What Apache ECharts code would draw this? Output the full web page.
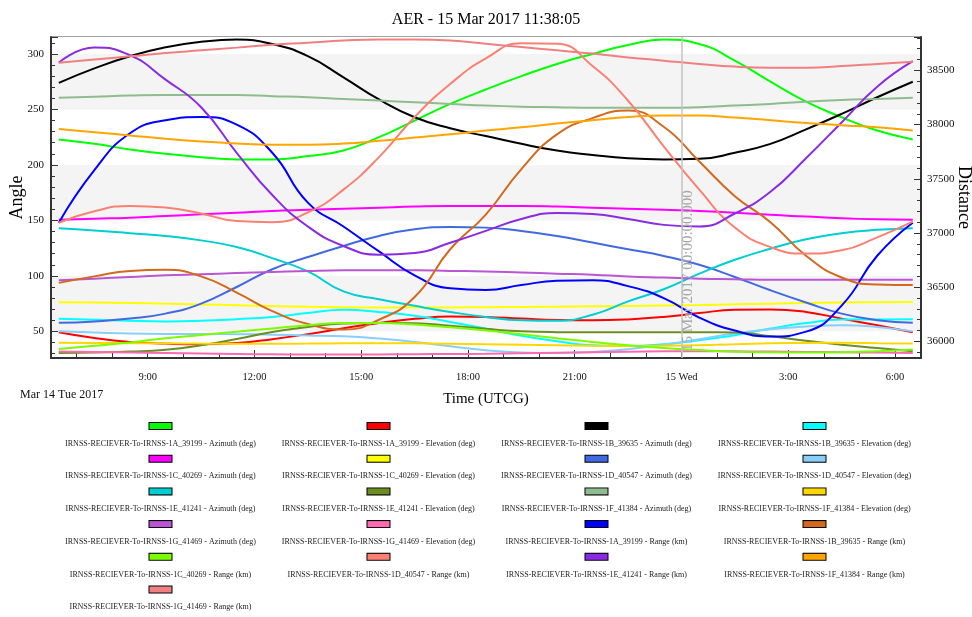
<!DOCTYPE html>
<html>
<head>
<meta charset="utf-8">
<title>AER - 15 Mar 2017 11:38:05</title>
<script src="https://cdn.jsdelivr.net/npm/echarts@6/dist/echarts.min.js"></script>
<style>
  html, body { margin: 0; padding: 0; background: #fff; }
  #chart { width: 972px; height: 617px; }
</style>
</head>
<body>
<div id="chart"></div>
<script>
// Sample times in hours counted from Mar 14 00:00 UTCG (24 = Mar 15 00:00)
const hours = [6.5, 7.5, 8.5, 9.5, 10.5, 11.5, 12.5, 13.5, 14.5, 15.5, 16.5, 17.5, 18.5,
               19.5, 20.5, 21.5, 22.5, 23.5, 24.5, 25.5, 26.5, 27.5, 28.5, 29.5, 30.5];

// Azimuth / elevation in degrees (left axis)
const az1A = [223, 219, 214, 210, 207, 205, 205, 208, 213, 225, 240, 255, 268, 280, 291, 300, 308, 313, 309, 294, 275, 257, 243, 231, 223];
const el1A = [49.2, 44, 40.5, 39, 38.3, 39.5, 43, 47.5, 52.8, 57.5, 61.3, 63.5, 63, 61.5, 60.2, 60, 60.8, 63, 66.5, 69.5, 69.8, 67.5, 61.5, 55.5, 49.2];
const az1B = [274, 287, 298, 306, 311, 313, 309, 298, 279, 259, 243, 233, 226, 219, 213, 209, 206, 205, 205.5, 211, 219, 232, 246, 261, 275];
const el1B = [61.3, 60.5, 59.5, 59, 59.5, 61, 63, 66.5, 69.4, 67.5, 64, 58.5, 52.5, 46, 41, 37.5, 36.8, 38.5, 42, 46.5, 52.5, 57.5, 60.6, 60.8, 61];
const az1C = [150.5, 151.5, 152.5, 154, 155.5, 157, 158.5, 159.5, 160.5, 161.5, 162.5, 163, 163, 163, 162.5, 161.5, 160.5, 159.5, 158.5, 157, 155, 153.5, 152, 151, 150.5];
const el1C = [76.3, 76, 75.5, 75, 74.3, 73.6, 72.8, 72.2, 71.7, 71.5, 71.5, 71.6, 71.8, 72, 72.3, 72.6, 72.9, 73.3, 73.8, 74.4, 75, 75.5, 76, 76.3, 76.4];
const az1D = [57.7, 59, 61.5, 66, 75, 90, 106, 117, 127, 136, 142, 144, 143.5, 140.5, 136, 130, 124, 118, 110, 99, 87, 76, 66, 60, 57.7];
const el1D = [50, 49, 48, 47.7, 47.7, 47.5, 47, 46.3, 45.5, 43.5, 40.5, 36.5, 33, 31, 30.5, 31.5, 34, 38, 43, 48, 52, 54.5, 55.5, 54, 50];
const az1E = [143, 141, 138.5, 136, 132, 126, 116, 104, 86, 79, 73, 67.5, 63, 60, 59.5, 65, 77, 88, 102, 114.5, 124.5, 133, 138.5, 141.5, 143];
const el1E = [30.6, 31, 31.8, 33.5, 37.5, 43.2, 49.5, 54, 57, 57.5, 57.3, 55, 52.3, 50, 49.3, 49.2, 49.2, 49.2, 49.2, 49, 45.5, 41.5, 38, 35, 32];
const az1F = [260.5, 261.5, 262.5, 263, 263, 263, 262, 261, 259.5, 258, 256.5, 255, 253.5, 252.5, 252, 251.5, 251.5, 251.5, 252, 253.5, 255, 257, 258.5, 259.5, 260.5];
const el1F = [39.7, 39.6, 39.4, 39.2, 39, 38.9, 38.9, 39, 39.2, 39.3, 39.2, 38.9, 38.4, 37.9, 37.4, 37, 36.8, 37, 37.6, 38.4, 39.2, 39.6, 39.7, 39.4, 39];
const az1G = [96, 97.5, 99, 100.5, 101.5, 102.5, 103.5, 104.5, 105, 105, 105, 104.5, 104, 103, 102, 101, 99.5, 98.5, 97.5, 97, 96.5, 96.5, 96.5, 96.5, 96.5];
const el1G = [31.8, 31.4, 31, 30.5, 30, 29.6, 29.3, 29.1, 29.1, 29.2, 29.4, 29.6, 29.8, 30.2, 30.7, 31.2, 31.7, 32, 32.1, 32, 31.8, 31.5, 31.2, 30.9, 30.6];

// Range in km (right axis)
const rng1A = [37095, 37580, 37920, 38040, 38070, 38000, 37740, 37280, 37060, 36830, 36610, 36490, 36475, 36520, 36560, 36565, 36510, 36400, 36220, 36100, 36045, 36090, 36330, 36790, 37095];
const rng1B = [36540, 36600, 36650, 36660, 36600, 36450, 36280, 36160, 36110, 36200, 36410, 36850, 37170, 37590, 37910, 38060, 38130, 37980, 37660, 37340, 37100, 36790, 36590, 36525, 36520];
const rng1C = [35930, 35960, 35990, 36030, 36060, 36090, 36120, 36150, 36170, 36170, 36155, 36130, 36100, 36065, 36030, 35995, 35965, 35940, 35920, 35905, 35900, 35898, 35900, 35910, 35925];
const rng1D = [37095, 37200, 37250, 37235, 37180, 37110, 37100, 37190, 37400, 37700, 38070, 38375, 38610, 38750, 38745, 38540, 38220, 37800, 37400, 37050, 36870, 36810, 36840, 36960, 37105];
const rng1E = [38570, 38710, 38640, 38415, 38160, 37740, 37350, 37060, 36880, 36800, 36815, 36910, 37020, 37130, 37185, 37175, 37130, 37075, 37060, 37180, 37380, 37690, 38020, 38350, 38585];
const rng1F = [37960, 37930, 37900, 37870, 37845, 37825, 37815, 37815, 37825, 37850, 37880, 37910, 37945, 37975, 38010, 38040, 38070, 38085, 38085, 38065, 38040, 38015, 37995, 37975, 37945];
const rng1G = [38570, 38600, 38630, 38660, 38685, 38710, 38737, 38755, 38775, 38785, 38785, 38775, 38745, 38715, 38685, 38655, 38620, 38590, 38560, 38535, 38525, 38525, 38540, 38560, 38580];

// Series names, values, colours and axis, in legend order
const seriesNames = [
  'IRNSS-RECIEVER-To-IRNSS-1A_39199 - Azimuth (deg)',
  'IRNSS-RECIEVER-To-IRNSS-1A_39199 - Elevation (deg)',
  'IRNSS-RECIEVER-To-IRNSS-1B_39635 - Azimuth (deg)',
  'IRNSS-RECIEVER-To-IRNSS-1B_39635 - Elevation (deg)',
  'IRNSS-RECIEVER-To-IRNSS-1C_40269 - Azimuth (deg)',
  'IRNSS-RECIEVER-To-IRNSS-1C_40269 - Elevation (deg)',
  'IRNSS-RECIEVER-To-IRNSS-1D_40547 - Azimuth (deg)',
  'IRNSS-RECIEVER-To-IRNSS-1D_40547 - Elevation (deg)',
  'IRNSS-RECIEVER-To-IRNSS-1E_41241 - Azimuth (deg)',
  'IRNSS-RECIEVER-To-IRNSS-1E_41241 - Elevation (deg)',
  'IRNSS-RECIEVER-To-IRNSS-1F_41384 - Azimuth (deg)',
  'IRNSS-RECIEVER-To-IRNSS-1F_41384 - Elevation (deg)',
  'IRNSS-RECIEVER-To-IRNSS-1G_41469 - Azimuth (deg)',
  'IRNSS-RECIEVER-To-IRNSS-1G_41469 - Elevation (deg)',
  'IRNSS-RECIEVER-To-IRNSS-1A_39199 - Range (km)',
  'IRNSS-RECIEVER-To-IRNSS-1B_39635 - Range (km)',
  'IRNSS-RECIEVER-To-IRNSS-1C_40269 - Range (km)',
  'IRNSS-RECIEVER-To-IRNSS-1D_40547 - Range (km)',
  'IRNSS-RECIEVER-To-IRNSS-1E_41241 - Range (km)',
  'IRNSS-RECIEVER-To-IRNSS-1F_41384 - Range (km)',
  'IRNSS-RECIEVER-To-IRNSS-1G_41469 - Range (km)'
];
const seriesValues = [az1A, el1A, az1B, el1B, az1C, el1C, az1D, el1D, az1E, el1E, az1F, el1F, az1G, el1G,
                      rng1A, rng1B, rng1C, rng1D, rng1E, rng1F, rng1G];
const seriesColors = ['#00ff00', '#ff0000', '#000000', '#00ffff', '#ff00ff', '#ffff00', '#4169e1', '#87cefa',
                      '#00ced1', '#6b8e23', '#8fbc8f', '#ffd700', '#ba55d3', '#ff69b4',
                      '#0000ff', '#d2691e', '#7cfc00', '#fa8072', '#8a2be2', '#ffa500', '#f08080'];
const seriesAxis = [0, 0, 0, 0, 0, 0, 0, 0, 0, 0, 0, 0, 0, 0, 1, 1, 1, 1, 1, 1, 1];

// Time axis tick text
const dayLabel = 'Mar 14 Tue 2017';
const midnightLabel = '15 Wed';
const midnightStamp = '15 Mar 2017 00:00:00.000';

const FONT = '"Liberation Serif", "Times New Roman", serif';

const chart = echarts.init(document.getElementById('chart'), null, { renderer: 'canvas' });

// Legend entries: a small outlined swatch above the centred series name
const legendRich = {
  t: { width: 205, align: 'center', lineHeight: 24, fontSize: 8, fontFamily: FONT, color: '#222' }
};
seriesColors.forEach((c, i) => {
  legendRich['b' + i] = {
    width: 22, height: 6, lineHeight: 8.7, align: 'center', verticalAlign: 'top',
    backgroundColor: c, borderColor: '#000', borderWidth: 1
  };
});
const nameIndex = {};
seriesNames.forEach((n, i) => { nameIndex[n] = i; });

const series = seriesNames.map((name, i) => ({
  name: name,
  type: 'line',
  yAxisIndex: seriesAxis[i],
  data: hours.map((h, k) => [h, seriesValues[i][k]]),
  smooth: true,
  showSymbol: false,
  symbol: 'none',
  lineStyle: { color: seriesColors[i], width: 2 },
  itemStyle: { color: seriesColors[i] },
  emphasis: { disabled: true },
  z: 3
}));

// Grey marker at Mar 15 00:00
series[0].markLine = {
  silent: true,
  symbol: ['none', 'none'],
  lineStyle: { color: '#c4c4c4', width: 1.5, type: 'solid' },
  label: {
    show: true,
    formatter: midnightStamp,
    position: 'insideStartBottom',
    distance: -1,
    padding: [0, 0, 0, 8],
    color: '#a8a8a8',
    fontFamily: FONT,
    fontSize: 15
  },
  data: [{ xAxis: 24 }]
};

const option = {
  animation: false,
  backgroundColor: '#ffffff',
  title: {
    text: 'AER - 15 Mar 2017 11:38:05',
    left: 'center',
    top: 7,
    textStyle: { fontFamily: FONT, fontSize: 16, fontWeight: 'normal', color: '#000' }
  },
  grid: {
    left: 51, right: 51, top: 37, bottom: 259,
    outerBoundsMode: 'none',
    containLabel: false,
    show: true, borderColor: '#444', borderWidth: 1, backgroundColor: 'transparent'
  },
  legend: {
    data: seriesNames,
    orient: 'horizontal',
    left: 52,
    top: 422,
    width: 880,
    padding: 0,
    itemGap: 7,
    itemWidth: 0,
    itemHeight: 0,
    selectedMode: false,
    formatter: (name) => '{b' + nameIndex[name] + '|}\n{t|' + name + '}',
    textStyle: { fontFamily: FONT, fontSize: 8, color: '#222', rich: legendRich }
  },
  xAxis: {
    type: 'value',
    min: 6.281,
    max: 30.731,
    splitNumber: 8,
    minInterval: 3,
    maxInterval: 3,
    name: 'Time (UTCG)',
    nameLocation: 'middle',
    nameGap: 34,
    nameTextStyle: { fontFamily: FONT, fontSize: 15, color: '#000' },
    axisLine: { show: true, onZero: false, lineStyle: { color: '#333', width: 2 } },
    axisTick: { show: true, inside: true, length: 8, lineStyle: { color: '#333' } },
    minorTick: { show: true, splitNumber: 3, length: 5, lineStyle: { color: '#333' } },
    splitLine: { show: false },
    axisLabel: {
      showMinLabel: false,
      showMaxLabel: false,
      margin: 14,
      fontFamily: FONT,
      fontSize: 10.5,
      color: '#111',
      formatter: (v) => {
        const h = Math.round(v);
        if (Math.abs(v - h) > 1e-6) return '';
        if (h === 24) return midnightLabel;
        return (h % 24) + ':00';
      }
    }
  },
  yAxis: [
    {
      type: 'value',
      position: 'left',
      min: 26,
      max: 315.3,
      splitNumber: 6,
      minInterval: 50,
      maxInterval: 50,
      name: 'Angle',
      nameLocation: 'middle',
      nameRotate: 90,
      nameGap: 25,
      nameMoveOverlap: false,
      nameTextStyle: { fontFamily: FONT, fontSize: 18, color: '#000' },
      axisLine: { show: true, lineStyle: { color: '#333', width: 2 } },
      axisTick: { show: true, inside: true, length: 7, lineStyle: { color: '#333' } },
      minorTick: { show: true, splitNumber: 5, length: 4, lineStyle: { color: '#333' } },
      axisLabel: { showMinLabel: false, showMaxLabel: false, margin: 7, fontFamily: FONT, fontSize: 11, color: '#111' },
      splitLine: { show: false },
      splitArea: { show: true, areaStyle: { color: ['#ffffff', '#f4f4f4'] } }
    },
    {
      type: 'value',
      position: 'right',
      min: 35847,
      max: 38808,
      splitNumber: 6,
      minInterval: 500,
      maxInterval: 500,
      name: 'Distance',
      nameLocation: 'middle',
      nameRotate: -90,
      nameGap: 34,
      nameMoveOverlap: false,
      nameTextStyle: { fontFamily: FONT, fontSize: 18, color: '#000' },
      axisLine: { show: true, lineStyle: { color: '#333', width: 2 } },
      axisTick: { show: true, inside: true, length: 7, lineStyle: { color: '#333' } },
      minorTick: { show: true, splitNumber: 5, length: 4, lineStyle: { color: '#333' } },
      axisLabel: {
        showMinLabel: false, showMaxLabel: false, margin: 6, fontFamily: FONT, fontSize: 11, color: '#111',
        formatter: (v) => String(v)
      },
      splitLine: { show: false },
      splitArea: { show: false }
    }
  ],
  graphic: [
    {
      type: 'text',
      left: 20,
      top: 389,
      style: { text: dayLabel, font: '12px ' + FONT, fill: '#111' }
    }
  ],
  series: series
};

chart.setOption(option);
</script>
</body>
</html>
